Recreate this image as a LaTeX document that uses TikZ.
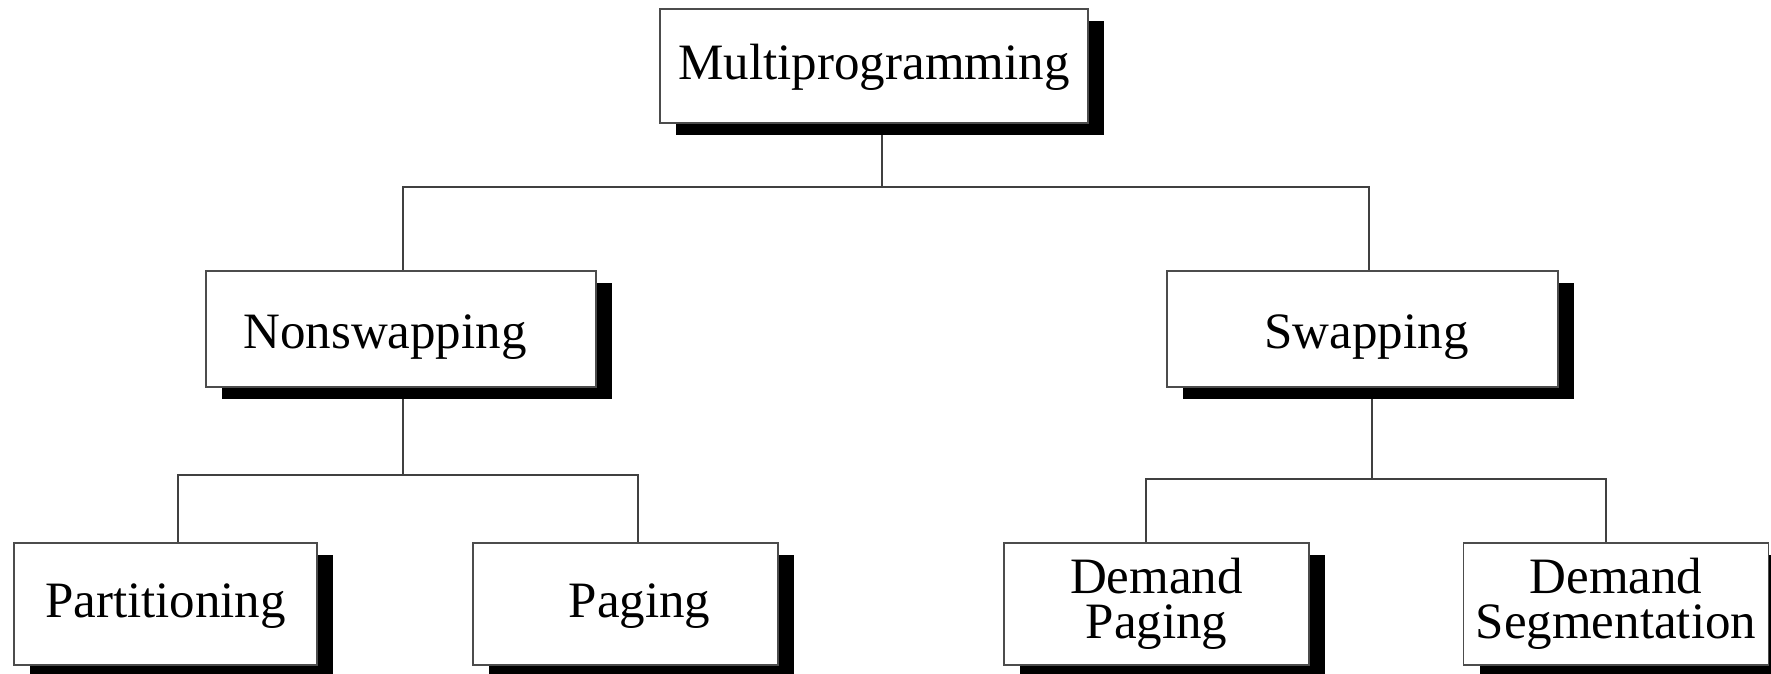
\documentclass[tikz,border=0pt]{standalone}
\usepackage{fontspec}
\setmainfont{Liberation Serif}
\usetikzlibrary{shadows,backgrounds}
\begin{document}
\begin{tikzpicture}[x=0.5pt, y=-0.5pt,
  every node/.style={font=\fontsize{25.5pt}{22.5pt}\selectfont},
  tbox/.style={draw=black!70, line width=0.6pt, fill=white, inner sep=0pt,
    align=center,
    general shadow={fill=black, shadow xshift=8pt, shadow yshift=-6pt}},
  oneline/.style={text height=#1, text depth=0pt},
  oneline/.default=19pt,
  conn/.style={draw=black!75, line width=0.6pt}
]
\useasboundingbox (0,0) rectangle (1771,674);

% tree nodes
\node[tbox, oneline=14pt, minimum width=214pt, minimum height=57pt] (multi) at (874,66) {Multiprogramming};
\node[tbox, oneline, minimum width=195pt, minimum height=58pt] (ns) at (401,329) {Nonswapping\hspace{16pt}};
\node[tbox, oneline, minimum width=195.5pt, minimum height=58pt] (sw) at (1362.5,329) {\hspace{4pt}Swapping};
\node[tbox, oneline=13pt, minimum width=151.5pt, minimum height=61pt] (part) at (165.5,604) {Partitioning};
\node[tbox, oneline=13pt, minimum width=152.5pt, minimum height=61pt] (pag) at (625.5,604) {\hspace{14pt}Paging};
\node[tbox, minimum width=152.5pt, minimum height=61pt] (dp) at (1156.5,604) {Demand\\Paging};
\node[tbox, minimum width=152.5pt, minimum height=61pt] (ds) at (1616,604) {Demand\\Segmentation};

% branch points of the connectors
\coordinate (b1) at (882,187);
\coordinate (b2) at (403,475);
\coordinate (b3) at (1372,479);

\begin{pgfonlayer}{background}
  \draw[conn] ([xshift=4pt]multi.south) -- (b1);
  \draw[conn] ([xshift=1pt]ns.north) |- (b1) -| ([xshift=3.25pt]sw.north);
  \draw[conn] ([xshift=1pt]ns.south) -- (b2);
  \draw[conn] ([xshift=6.25pt]part.north) |- (b2) -| ([xshift=6.25pt]pag.north);
  \draw[conn] ([xshift=4.75pt]sw.south) -- (b3);
  \draw[conn] ([xshift=-5.25pt]dp.north) |- (b3) -| ([xshift=-5pt]ds.north);
\end{pgfonlayer}
\end{tikzpicture}
\end{document}
